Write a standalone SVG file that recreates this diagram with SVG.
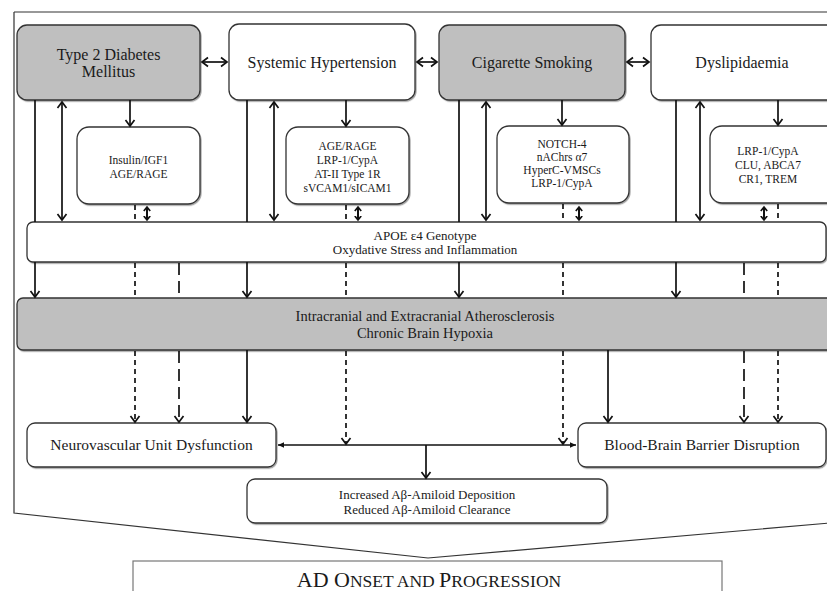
<svg xmlns="http://www.w3.org/2000/svg" width="827" height="591" viewBox="0 0 827 591">
<style>
.box{fill:#fff;stroke:#333;stroke-width:1.3;filter:url(#sh)}
.gray{fill:#bfbfbf;stroke:#333;stroke-width:1.3;filter:url(#sh)}
text{font-family:"Liberation Serif","Times New Roman",serif;fill:#1a1a1a;text-anchor:middle}
.t16{font-size:16px}
.t11{font-size:11.5px}
.t13{font-size:13px}
.t14{font-size:14.5px}
.t15{font-size:15.5px}
.c{stroke:#111;stroke-width:1.7;fill:none}
.d{stroke:#111;stroke-width:1.7;fill:none;stroke-dasharray:5 4}
.ld{stroke:#111;stroke-width:1.7;fill:none;stroke-dasharray:12 6}
.s{stroke:#111;stroke-width:2;fill:none}
</style>
<defs>
<filter id="sh" x="-5%" y="-10%" width="110%" height="125%">
<feDropShadow dx="1" dy="1.2" stdDeviation="0.7" flood-color="#000" flood-opacity="0.35"/>
</filter>
<marker id="a" markerUnits="userSpaceOnUse" markerWidth="12" markerHeight="12" refX="7" refY="6" orient="auto-start-reverse" viewBox="0 0 12 12">
<path d="M1,1.5 L7,6 L1,10.5" fill="none" stroke="#111" stroke-width="1.7"/>
</marker>
<marker id="sm" markerUnits="userSpaceOnUse" markerWidth="8" markerHeight="8" refX="4.5" refY="4" orient="auto-start-reverse" viewBox="0 0 8 8">
<path d="M0.5,0.8 L4.5,4 L0.5,7.2" fill="none" stroke="#111" stroke-width="1.7"/>
</marker>
<marker id="f" markerUnits="userSpaceOnUse" markerWidth="8" markerHeight="8" refX="6" refY="4" orient="auto-start-reverse" viewBox="0 0 8 8">
<path d="M0,1.2 L6,4 L0,6.8 Z" fill="#111"/>
</marker>
</defs>

<g id="frame">
<path d="M14,12 L830,12 M14,12 L14,513 L428,558 L830,523" fill="none" stroke="#333" stroke-width="1.2"/>
</g>

<g id="t2d"><rect class="gray" x="17" y="25" width="183" height="75" rx="10"/>
<text class="t16" x="108.5" y="60">Type 2 Diabetes</text><text class="t16" x="108.5" y="77">Mellitus</text></g>
<g id="sh-node"><rect class="box" x="229" y="24" width="186" height="76" rx="10"/>
<text class="t16" x="322" y="68">Systemic Hypertension</text></g>
<g id="cs"><rect class="gray" x="439" y="25" width="186" height="75" rx="10"/>
<text class="t16" x="532" y="68">Cigarette Smoking</text></g>
<g id="dys"><rect class="box" x="651" y="25" width="200" height="75" rx="10"/>
<text class="t16" x="742" y="68">Dyslipidaemia</text></g>

<g id="ins"><rect class="box" x="77" y="127" width="123" height="77" rx="12"/>
<text class="t11" x="138.5" y="164">Insulin/IGF1</text><text class="t11" x="138.5" y="178">AGE/RAGE</text></g>
<g id="age"><rect class="box" x="286" y="127" width="123" height="77" rx="12"/>
<text class="t11" x="347.5" y="150">AGE/RAGE</text><text class="t11" x="347.5" y="164">LRP-1/CypA</text>
<text class="t11" x="347.5" y="178">AT-II Type 1R</text><text class="t11" x="347.5" y="192">sVCAM1/sICAM1</text></g>
<g id="notch"><rect class="box" x="497" y="126" width="132" height="77" rx="12"/>
<text class="t11" x="562" y="148">NOTCH-4</text><text class="t11" x="562" y="161">nAChrs α7</text>
<text class="t11" x="562" y="174">HyperC-VMSCs</text><text class="t11" x="562" y="187">LRP-1/CypA</text></g>
<g id="lrp"><rect class="box" x="710" y="126" width="140" height="77" rx="12"/>
<text class="t11" x="768" y="155">LRP-1/CypA</text><text class="t11" x="768" y="169">CLU, ABCA7</text>
<text class="t11" x="768" y="183">CR1, TREM</text></g>

<g id="apoe"><rect class="box" x="27" y="222" width="799" height="40" rx="6"/>
<text class="t13" x="425" y="240">APOE ε4 Genotype</text><text class="t13" x="425" y="254">Oxydative Stress and Inflammation</text></g>

<g id="athero"><rect class="gray" x="17" y="298" width="840" height="52" rx="6"/>
<text class="t14" x="425" y="321">Intracranial and Extracranial Atherosclerosis</text>
<text class="t14" x="425" y="338">Chronic Brain Hypoxia</text></g>

<g id="nvu"><rect class="box" x="27" y="423" width="249" height="44" rx="8"/>
<text class="t15" x="151.5" y="450">Neurovascular Unit Dysfunction</text></g>
<g id="bbb"><rect class="box" x="578" y="423" width="248" height="44" rx="8"/>
<text class="t15" x="702" y="450">Blood-Brain Barrier Disruption</text></g>
<g id="amy"><rect class="box" x="247" y="479" width="360" height="44" rx="8"/>
<text class="t13" x="427" y="499">Increased Aβ-Amiloid Deposition</text>
<text class="t13" x="427" y="514">Reduced Aβ-Amiloid Clearance</text></g>

<g id="ad"><rect x="133" y="561" width="589" height="45" fill="#fff" stroke="#777" stroke-width="1.2"/>
<text x="429" y="587" style="font-size:22px">AD O<tspan style="font-size:17.5px">NSET AND </tspan>P<tspan style="font-size:17.5px">ROGRESSION</tspan></text></g>

<g id="connectors">
<path class="c" d="M202,62 H227" marker-start="url(#a)" marker-end="url(#a)"/>
<path class="c" d="M417,62 H437" marker-start="url(#a)" marker-end="url(#a)"/>
<path class="c" d="M627,62 H649" marker-start="url(#a)" marker-end="url(#a)"/>

<path class="c" d="M35,100 V222"/>
<path class="c" d="M35,262 V297" marker-end="url(#a)"/>
<path class="c" d="M62,102 V220" marker-start="url(#a)" marker-end="url(#a)"/>
<path class="c" d="M130,100 V126" marker-end="url(#a)"/>
<path class="d" d="M135,205 V222 M135,263 V298"/>
<path class="d" d="M135,351 V422" marker-end="url(#a)"/>
<path class="s" d="M147,207 V220" marker-start="url(#sm)" marker-end="url(#sm)"/>
<path class="ld" d="M179,263 V298"/>
<path class="ld" d="M179,351 V422" marker-end="url(#a)"/>

<path class="c" d="M247,100 V222"/>
<path class="c" d="M247,262 V297" marker-end="url(#a)"/>
<path class="c" d="M247,350 V422" marker-end="url(#a)"/>
<path class="c" d="M274,102 V220" marker-start="url(#a)" marker-end="url(#a)"/>
<path class="c" d="M346,100 V126" marker-end="url(#a)"/>
<path class="d" d="M346,205 V222 M346,263 V298"/>
<path class="d" d="M346,351 V444" marker-end="url(#a)"/>
<path class="s" d="M358,207 V220" marker-start="url(#sm)" marker-end="url(#sm)"/>

<path class="c" d="M459,100 V222"/>
<path class="c" d="M459,262 V297" marker-end="url(#a)"/>
<path class="c" d="M486,102 V220" marker-start="url(#a)" marker-end="url(#a)"/>
<path class="c" d="M562,100 V125" marker-end="url(#a)"/>
<path class="d" d="M563,204 V222 M563,263 V298"/>
<path class="d" d="M563,351 V444" marker-end="url(#a)"/>
<path class="s" d="M579,207 V220" marker-start="url(#sm)" marker-end="url(#sm)"/>
<path class="c" d="M608,350 V422" marker-end="url(#a)"/>

<path class="c" d="M676,100 V222"/>
<path class="c" d="M676,262 V297" marker-end="url(#a)"/>
<path class="c" d="M700,102 V220" marker-start="url(#a)" marker-end="url(#a)"/>
<path class="c" d="M778,100 V125" marker-end="url(#a)"/>
<path class="d" d="M778,204 V222 M778,263 V298"/>
<path class="d" d="M778,351 V422" marker-end="url(#a)"/>
<path class="s" d="M764,207 V220" marker-start="url(#sm)" marker-end="url(#sm)"/>
<path class="ld" d="M744,263 V298"/>
<path class="ld" d="M744,351 V422" marker-end="url(#a)"/>

<path class="c" d="M278,445 H576" stroke-width="1.5" marker-start="url(#f)" marker-end="url(#f)"/>
<path class="c" d="M426,445 V478" marker-end="url(#a)"/>
</g>
</svg>
